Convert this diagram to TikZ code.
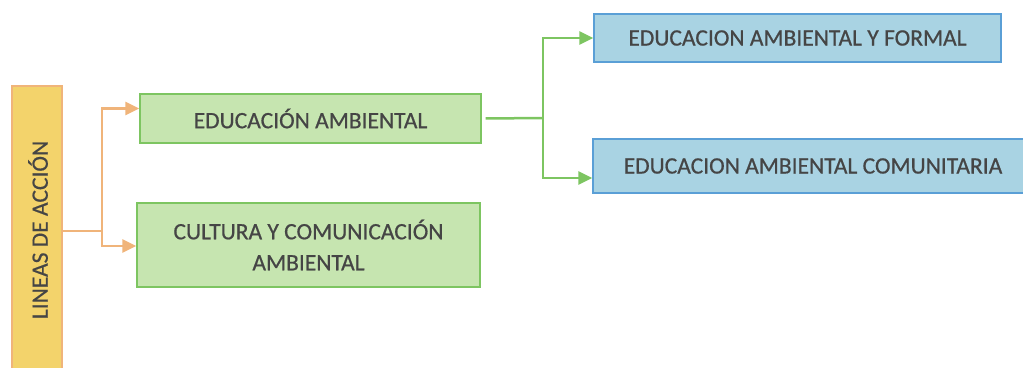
\documentclass[tikz,border=0pt]{standalone}
\usepackage{fontspec}
\setmainfont{Carlito}[BoldFont=Carlito, BoldFeatures={FakeBold=0.6}]
\usepackage{tikz}
\usetikzlibrary{positioning,arrows.meta}

\definecolor{lineafill}{HTML}{F3D36B}
\definecolor{lineadraw}{HTML}{F0B47A}
\definecolor{verdefill}{HTML}{C6E5B0}
\definecolor{verdedraw}{HTML}{7DC561}
\definecolor{azulfill}{HTML}{A9D3E3}
\definecolor{azuldraw}{HTML}{5A9FD6}
\definecolor{texto}{HTML}{454545}

\begin{document}
\begin{tikzpicture}[x=1pt, y=1pt]
        \tikzstyle{every node}=[line width=1.4pt, text=texto, font=\fontsize{23.5}{31}\selectfont\bfseries, inner sep=0pt]
        \tikzstyle{caja}=[draw=verdedraw, fill=verdefill, align=center]
        \tikzstyle{rama}=[draw=azuldraw, fill=azulfill]
        \tikzstyle{flecha}=[line width=2.5pt, -{Triangle[length=14pt, width=13pt]}]

        \useasboundingbox (0,0) rectangle (1023,367);

        \node   (lineas) [draw=lineadraw, fill=lineafill, minimum width=50pt, minimum height=289pt] at (37,136.5) {};
        \node   [rotate=90] at (38,137) {LINEAS DE ACCIÓN};

        \node   (edu)  [caja, minimum width=341pt, minimum height=49pt] at (310.5,248.5) {EDUCACIÓN AMBIENTAL};
        \node   (cul)  [caja, minimum width=343pt, minimum height=84pt] at (308.5,122) {CULTURA Y COMUNICACIÓN\\AMBIENTAL};

        \node   (form) [rama, minimum width=407pt, minimum height=48pt] at (797.5,329) {EDUCACION AMBIENTAL Y FORMAL};
        \node   (com)  [rama, minimum width=440pt, minimum height=54pt] at (813,201) {EDUCACION AMBIENTAL COMUNITARIA};

        \coordinate (osplit) at (102,136);
        \coordinate (vsplit) at (543,249);

        \draw[lineadraw, line width=2.5pt] (lineas.east |- osplit) -- (osplit);
        \draw[lineadraw, flecha] (osplit) |- ([yshift=10pt]edu.west);
        \draw[lineadraw, flecha] (osplit) |- ([yshift=-1pt]cul.west);

        \draw[verdedraw, line width=2.5pt] ([xshift=4pt]edu.east) -- (vsplit);
        \draw[verdedraw, flecha] (vsplit) |- (form.west);
        \draw[verdedraw, flecha] (vsplit) |- ([yshift=-12pt]com.west);

    \end{tikzpicture}
\end{document}
